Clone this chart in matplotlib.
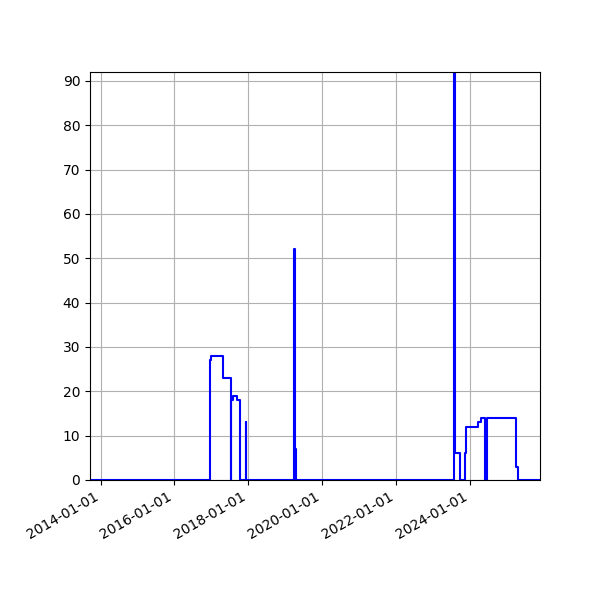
import matplotlib
matplotlib.use("Agg")
import matplotlib.pyplot as plt
import matplotlib.dates as mdates
from matplotlib.ticker import MultipleLocator
import numpy as np
import pandas as pd

dates = ["2013-09-17", "2016-12-17", "2016-12-24", "2017-04-22", "2017-07-10", "2017-07-18",
         "2017-08-05", "2017-09-13", "2017-10-10", "2017-12-05", "2017-12-09",
         "2019-03-27", "2019-04-12", "2019-04-22", "2023-08-02", "2023-08-13",
         "2023-09-27", "2023-11-14", "2023-11-28", "2024-03-25", "2024-04-20",
         "2024-05-27", "2024-06-16", "2025-04-08", "2025-04-26", "2025-11-27"]
values = [0, 27, 28, 23, 0, 18,
          19, 18, 0, 13, 0,
          52, 7, 0, 92, 6,
          0, 6, 12, 13, 14,
          0, 14, 3, 0, 0]

x = pd.to_datetime(dates)
y = np.array(values)

fig, ax = plt.subplots(figsize=(6, 6), dpi=100)
ax.plot(x, y, color="blue", drawstyle="steps-post", linewidth=1.5)
ax.set_xlim(x[0], x[-1])
ax.set_ylim(0, y.max())
ax.xaxis.set_major_locator(mdates.YearLocator(2))
ax.xaxis.set_major_formatter(mdates.DateFormatter("%Y-%m-%d"))
ax.yaxis.set_major_locator(MultipleLocator(10))
ax.grid(True)
fig.autofmt_xdate()
fig.subplots_adjust(left=0.15, right=0.9, top=0.88, bottom=0.2)
fig.savefig("out.png", dpi=100)
